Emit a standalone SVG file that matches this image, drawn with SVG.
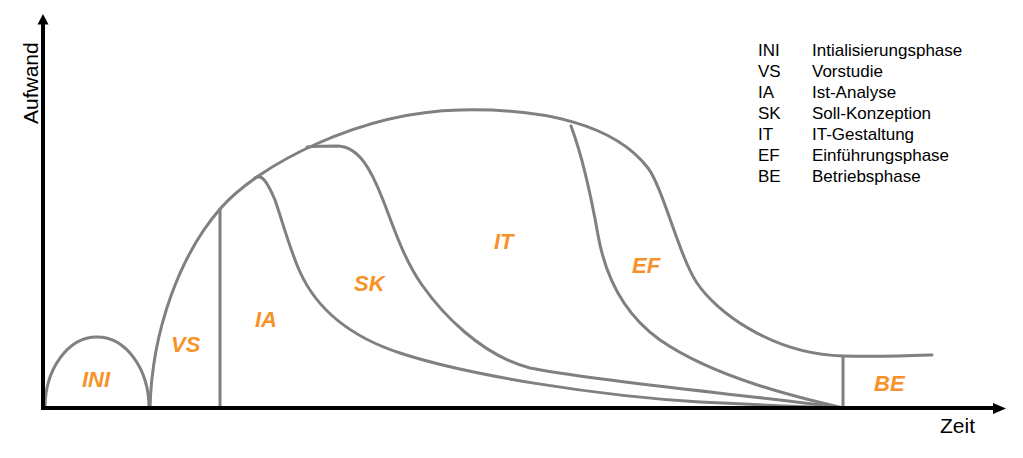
<svg xmlns="http://www.w3.org/2000/svg" width="1023" height="458" viewBox="0 0 1023 458">
<style>
.curve{fill:none;stroke:#808080;stroke-width:3;stroke-linejoin:round;stroke-linecap:round}
.axis{fill:none;stroke:#000;stroke-width:4}
.phase{font-family:"Liberation Sans",Arial,sans-serif;font-size:22px;font-weight:bold;font-style:italic;fill:#F7922A}
.lg{font-family:"Liberation Sans",Arial,sans-serif;font-size:17px;fill:#000}
.ax{font-family:"Liberation Sans",Arial,sans-serif;font-size:21px;fill:#000}
</style>
<rect width="1023" height="458" fill="#fff"/>
<g id="connectors">
<path id="ini-curve" class="curve" d="M45,408 C45,369 68,337 97,337 C126,337 149,369 149,408"/>
<path id="envelope" class="curve" d="M150,408 C152,330 180,255 220,209 C258,165 360,112 460,110 C545,108 615,125 648,168 C663,188 679,256 697,283 C715,310 770,354 843,356 C880,357 905,356 932,355"/>
<path id="vs-ia" class="curve" d="M220,209 L220,408"/>
<path id="ia-sk" class="curve" d="M255,178 C261,173 267,181 275,200 C282,220 290,250 300,272 C315,305 345,335 400,353 C470,376 600,396 700,402 C760,405 810,407 843,408"/>
<path id="sk-it" class="curve" d="M307,147 C318,146 328,146 338,146 C360,147 372,172 383,200 C393,225 403,258 422,285 C441,312 480,355 530,368 C600,382 760,396 843,408"/>
<path id="it-ef" class="curve" d="M571,126 C580,150 590,190 598,235 C606,280 625,315 660,340 C715,378 800,398 843,408"/>
<path id="be-line" class="curve" d="M843,356 L843,408"/>
</g>
<g id="axes">
<path class="axis" d="M43,410 L43,22"/>
<path class="axis" d="M41,408 L995,408"/>
<polygon points="43,14 37.5,24.5 48.5,24.5" fill="#000"/>
<polygon points="1006,408.5 993,403 993,414" fill="#000"/>
<text class="ax" transform="translate(38,124) rotate(-90)">Aufwand</text>
<text class="ax" x="940" y="433">Zeit</text>
</g>
<g id="node-ini"><text class="phase" x="82" y="387">INI</text></g>
<g id="node-vs"><text class="phase" x="171" y="352">VS</text></g>
<g id="node-ia"><text class="phase" x="255" y="327">IA</text></g>
<g id="node-sk"><text class="phase" x="354" y="291">SK</text></g>
<g id="node-it"><text class="phase" x="494" y="249">IT</text></g>
<g id="node-ef"><text class="phase" x="632" y="273">EF</text></g>
<g id="node-be"><text class="phase" x="874" y="391">BE</text></g>
<g id="legend">
<text class="lg" x="758" y="56">INI</text><text class="lg" x="812" y="56">Intialisierungsphase</text>
<text class="lg" x="758" y="77">VS</text><text class="lg" x="812" y="77">Vorstudie</text>
<text class="lg" x="758" y="98">IA</text><text class="lg" x="812" y="98">Ist-Analyse</text>
<text class="lg" x="758" y="119">SK</text><text class="lg" x="812" y="119">Soll-Konzeption</text>
<text class="lg" x="758" y="140">IT</text><text class="lg" x="812" y="140">IT-Gestaltung</text>
<text class="lg" x="758" y="161">EF</text><text class="lg" x="812" y="161">Einführungsphase</text>
<text class="lg" x="758" y="182">BE</text><text class="lg" x="812" y="182">Betriebsphase</text>
</g>
</svg>
